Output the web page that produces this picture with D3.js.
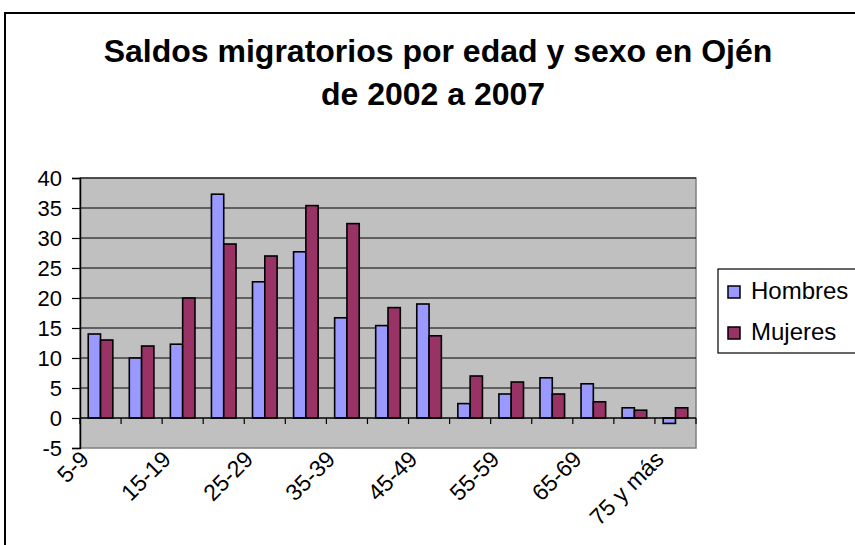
<!DOCTYPE html>
<html>
<head>
<meta charset="utf-8">
<script src="https://cdn.jsdelivr.net/npm/d3@7"></script>
<style>
  body { margin: 0; background: #fff; }
  svg text { font-family: "Liberation Sans", Arial, sans-serif; fill: #000; }
</style>
</head>
<body>
<svg id="chart" width="855" height="545"></svg>
<script>
// data
var categories = ["5-9", "10-14", "15-19", "20-24", "25-29", "30-34", "35-39", "40-44",
                  "45-49", "50-54", "55-59", "60-64", "65-69", "70-74", "75 y más"];
var hombres = [14, 10, 12.3, 37.3, 22.7, 27.7, 16.7, 15.4, 19, 2.4, 4, 6.7, 5.7, 1.7, -0.9];
var mujeres = [13, 12, 20, 29, 27, 35.4, 32.4, 18.4, 13.7, 7, 6, 4, 2.7, 1.3, 1.7];
var seriesNames = ["Hombres", "Mujeres"];
var seriesColors = ["#9999ff", "#993366"];
var yTicks = [-5, 0, 5, 10, 15, 20, 25, 30, 35, 40];

var svg = d3.select("#chart");

// outer chart frame (runs off the right / bottom edge)
svg.append("rect")
    .attr("x", 5).attr("y", 13)
    .attr("width", 900).attr("height", 600)
    .attr("fill", "#fff").attr("stroke", "#000").attr("stroke-width", 2);

// title
var title = svg.append("text")
    .attr("text-anchor", "middle")
    .style("font-size", "32px").style("font-weight", "bold");
title.append("tspan").attr("x", 438).attr("y", 62).text("Saldos migratorios por edad y sexo en Ojén");
title.append("tspan").attr("x", 433).attr("y", 105).text("de 2002 a 2007");

var plotL = 80, plotR = 696, plotT = 178, plotB = 448;

var x = d3.scaleBand().domain(categories).range([plotL, plotR]).padding(0);
var xSub = d3.scaleBand().domain(seriesNames).range([0, x.bandwidth()]).paddingInner(0).paddingOuter(0.67);
var y = d3.scaleLinear().domain([-5, 40]).range([plotB, plotT]);

// plot area
svg.append("rect")
    .attr("x", plotL).attr("y", plotT)
    .attr("width", plotR - plotL).attr("height", plotB - plotT)
    .attr("fill", "#c0c0c0").attr("stroke", "#808080").attr("stroke-width", 1.5);

// gridlines
svg.append("g").selectAll("line")
    .data(yTicks.filter(function(d) { return d > 0; }))
    .enter().append("line")
    .attr("x1", plotL).attr("x2", plotR)
    .attr("y1", function(d) { return y(d); })
    .attr("y2", function(d) { return y(d); })
    .attr("stroke", "#000").attr("stroke-width", 1.2);

// bars
var rows = categories.map(function(c, i) {
  return { cat: c, values: [{ s: "Hombres", v: hombres[i] }, { s: "Mujeres", v: mujeres[i] }] };
});

var groups = svg.append("g").selectAll("g")
    .data(rows).enter().append("g")
    .attr("transform", function(d) { return "translate(" + x(d.cat) + ",0)"; });

groups.selectAll("rect")
    .data(function(d) { return d.values; })
    .enter().append("rect")
    .attr("x", function(d) { return xSub(d.s); })
    .attr("width", xSub.bandwidth())
    .attr("y", function(d) { return y(Math.max(0, d.v)); })
    .attr("height", function(d) { return Math.abs(y(d.v) - y(0)); })
    .attr("fill", function(d) { return seriesColors[seriesNames.indexOf(d.s)]; })
    .attr("stroke", "#000").attr("stroke-width", 1.6);

// y axis (plain hyphen for negatives, like the original)
var yAxis = svg.append("g")
    .attr("transform", "translate(" + plotL + ",0)")
    .call(d3.axisLeft(y).tickValues(yTicks).tickSize(8).tickPadding(10)
      .tickFormat(function(d) { return String(d); }));
yAxis.select(".domain").attr("stroke", "#000").attr("stroke-width", 1.5);
yAxis.selectAll(".tick line").attr("stroke", "#000").attr("stroke-width", 1.2);
yAxis.selectAll(".tick text").style("font-size", "22px").attr("font-family", null);

// x axis at zero, ticks on category boundaries
var xAxisG = svg.append("g");
xAxisG.append("line")
    .attr("x1", plotL).attr("x2", plotR)
    .attr("y1", y(0)).attr("y2", y(0))
    .attr("stroke", "#000").attr("stroke-width", 1.5);
xAxisG.selectAll("line.tk")
    .data(categories.concat(["end"]))
    .enter().append("line").attr("class", "tk")
    .attr("x1", function(d, i) { return plotL + i * x.step(); })
    .attr("x2", function(d, i) { return plotL + i * x.step(); })
    .attr("y1", y(0)).attr("y2", y(0) + 6)
    .attr("stroke", "#000").attr("stroke-width", 1.2);

// rotated labels, every other category
svg.append("g").selectAll("text")
    .data(categories.filter(function(d, i) { return i % 2 === 0; }))
    .enter().append("text")
    .attr("text-anchor", "end")
    .style("font-size", "23px")
    .attr("transform", function(d) {
      return "translate(" + (x(d) + x.bandwidth() / 2 - 22) + "," + (plotB + 1) + ") rotate(-45)";
    })
    .attr("dy", "0.72em")
    .text(function(d) { return d; });

// legend
var legend = svg.append("g");
legend.append("rect")
    .attr("x", 718).attr("y", 269).attr("width", 160).attr("height", 84)
    .attr("fill", "#fff").attr("stroke", "#000").attr("stroke-width", 1.2);
var li = legend.selectAll("g.item")
    .data(seriesNames).enter().append("g").attr("class", "item")
    .attr("transform", function(d, i) { return "translate(0," + (i * 41) + ")"; });
li.append("rect")
    .attr("x", 728).attr("y", 286).attr("width", 12).attr("height", 12)
    .attr("fill", function(d, i) { return seriesColors[i]; })
    .attr("stroke", "#000").attr("stroke-width", 1.5);
li.append("text")
    .attr("x", 751).attr("y", 299)
    .style("font-size", "24px")
    .text(function(d) { return d; });
</script>
</body>
</html>
